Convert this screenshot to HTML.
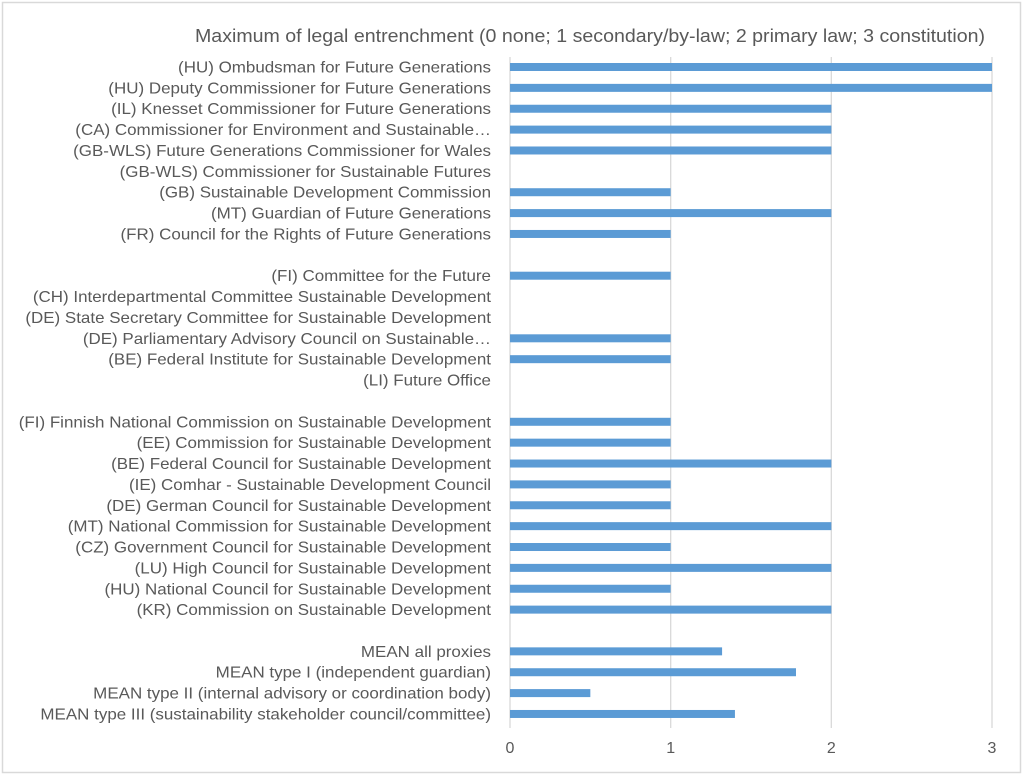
<!DOCTYPE html>
<html><head><meta charset="utf-8"><style>
body{margin:0;background:#fff;}
svg text{font-family:"Liberation Sans",sans-serif;fill:#595959;}
</style></head><body>
<svg width="1024" height="777" viewBox="0 0 1024 777" xmlns="http://www.w3.org/2000/svg">
<rect x="2.5" y="2.5" width="1018" height="770" fill="#fff" stroke="#d9d9d9" stroke-width="1.5"/>
<text x="590" y="42" font-size="18" text-anchor="middle" textLength="790" lengthAdjust="spacingAndGlyphs">Maximum of legal entrenchment (0 none; 1 secondary/by-law; 2 primary law; 3 constitution)</text>
<g stroke="#d9d9d9" stroke-width="1.3">
<line x1="510" y1="57" x2="510" y2="728"/>
<line x1="670.7" y1="57" x2="670.7" y2="728"/>
<line x1="831.3" y1="57" x2="831.3" y2="728"/>
<line x1="992" y1="57" x2="992" y2="728"/>
</g>
<g font-size="16" text-anchor="middle">
<text x="510" y="753">0</text><text x="670.7" y="753">1</text><text x="831.3" y="753">2</text><text x="992" y="753">3</text>
</g>
<g id="rows" font-size="16" text-anchor="end"></g>
<g id="bars" fill="#5b9bd5"></g>
<script>
var d=[["(HU) Ombudsman for Future Generations",3],["(HU) Deputy Commissioner for Future Generations",3],["(IL) Knesset Commissioner for Future Generations",2],["(CA) Commissioner for Environment and Sustainable…",2],["(GB-WLS) Future Generations Commissioner for Wales",2],["(GB-WLS) Commissioner for Sustainable Futures",0],["(GB) Sustainable Development Commission",1],["(MT) Guardian of Future Generations",2],["(FR) Council for the Rights of Future Generations",1],null,
["(FI) Committee for the Future",1],["(CH) Interdepartmental Committee Sustainable Development",0],["(DE) State Secretary Committee for Sustainable Development",0],["(DE) Parliamentary Advisory Council on Sustainable…",1],["(BE) Federal Institute for Sustainable Development",1],["(LI) Future Office",0],null,
["(FI) Finnish National Commission on Sustainable Development",1],["(EE) Commission for Sustainable Development",1],["(BE) Federal Council for Sustainable Development",2],["(IE) Comhar - Sustainable Development Council",1],["(DE) German Council for Sustainable Development",1],["(MT) National Commission for Sustainable Development",2],["(CZ) Government Council for Sustainable Development",1],["(LU) High Council for Sustainable Development",2],["(HU) National Council for Sustainable Development",1],["(KR) Commission on Sustainable Development",2],null,
["MEAN all proxies",1.32],["MEAN type I (independent guardian)",1.78],["MEAN type II (internal advisory or coordination body)",0.5],["MEAN type III (sustainability stakeholder council/committee)",1.40]];
var ns="http://www.w3.org/2000/svg",R=document.getElementById("rows"),B=document.getElementById("bars");
d.forEach(function(r,i){if(!r)return;var y=67+i*20.87;
var t=document.createElementNS(ns,"text");t.setAttribute("x",491);t.setAttribute("y",y+5.5);t.textContent=r[0];R.appendChild(t);
var w=t.getComputedTextLength();t.setAttribute("textLength",w*1.06);t.setAttribute("lengthAdjust","spacingAndGlyphs");
if(r[1]>0){var b=document.createElementNS(ns,"rect");b.setAttribute("x",510);b.setAttribute("y",y-4);b.setAttribute("width",r[1]*160.67);b.setAttribute("height",8);B.appendChild(b);}});
</script>
</svg>
</body></html>
